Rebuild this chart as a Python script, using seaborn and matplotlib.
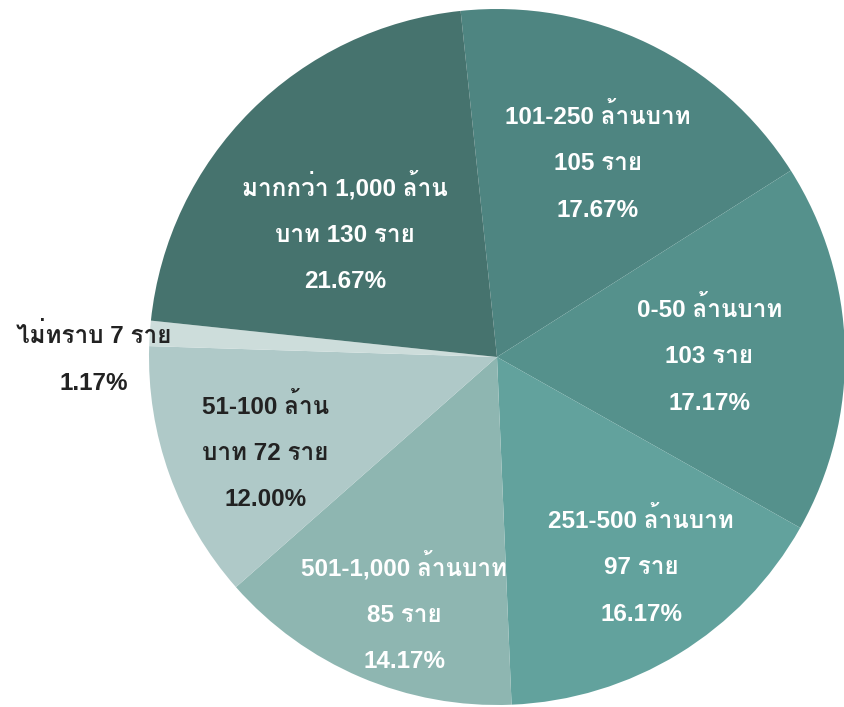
import matplotlib
matplotlib.use("Agg")
import matplotlib.pyplot as plt
from matplotlib import font_manager
from fontTools.ttLib import TTFont
import seaborn as sns
import numpy as np

# ข้อมูล
categories = ["101-250 ล้านบาท", "0-50 ล้านบาท", "251-500 ล้านบาท", "501-1,000 ล้านบาท",
              "51-100 ล้าน\nบาท", "ไม่ทราบ", "มากกว่า 1,000 ล้าน\nบาท"]
counts = [105, 103, 97, 85, 72, 7, 130]
percents = [17.67, 17.17, 16.17, 14.17, 12.00, 1.17, 21.67]
colors = ["#4e8581", "#55918c", "#62a29d", "#8eb6b1", "#afc9c8", "#cddddb", "#46736e"]
text_colors = ["white", "white", "white", "white", "#222222", "#222222", "white"]

# หาฟอนต์ที่มีอักษรไทย
thai_fonts = []
for f in font_manager.fontManager.ttflist:
    try:
        tt = TTFont(f.fname, fontNumber=0, lazy=True)
        if 0x0E01 in tt.getBestCmap() and f.name not in thai_fonts:
            thai_fonts.append(f.name)
    except Exception:
        pass

sns.set_theme(style="white")
plt.rcParams['font.family'] = ['Liberation Sans'] + thai_fonts + ['DejaVu Sans']

fig = plt.figure(figsize=(8.45, 7.07), dpi=100)
ax = fig.add_axes([149 / 845, 2 / 707, 696 / 845, 696 / 707])

wedges, _ = ax.pie(percents, colors=colors, startangle=96, counterclock=False,
                   radius=1, wedgeprops=dict(linewidth=0))
ax.set_xlim(-1, 1)
ax.set_ylim(-1, 1)
ax.set_aspect("equal")
ax.axis("off")

# ตำแหน่งป้าย (ระยะจากจุดศูนย์กลาง, มุม)
label_r = [0.63, 0.61, 0.73, 0.78, 0.72, 1.16, 0.566]
label_ang = [62.7, 0.5, -55.4, -110, -157.7, 180.3, 140.6]
for cat, n, p, tc, r, a in zip(categories, counts, percents, text_colors, label_r, label_ang):
    t = np.deg2rad(a)
    x, y = r * np.cos(t), r * np.sin(t)
    if "\n" in cat:
        first, second = cat.split("\n")
        lines = [first, f"{second} {n} ราย", f"{p:.2f}%"]
    elif cat == "ไม่ทราบ":
        lines = [f"{cat} {n} ราย", f"{p:.2f}%"]
    else:
        lines = [cat, f"{n} ราย", f"{p:.2f}%"]
    ax.text(x, y, "\n".join(lines), ha="center", va="center", color=tc,
            fontsize=17.5, fontweight="bold", linespacing=2.3)

fig.savefig("out.png", dpi=100)
